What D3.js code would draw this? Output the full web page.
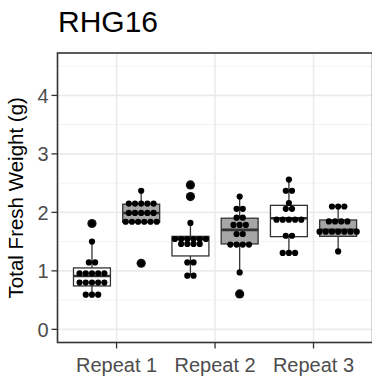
<!DOCTYPE html>
<html><head><meta charset="utf-8">
<script src="https://cdn.jsdelivr.net/npm/d3@7"></script>
<style>body{margin:0;background:#fff}svg{display:block}text{font-family:"Liberation Sans",Arial,sans-serif}</style>
</head><body>
<script>
// ---- data ----
const title = "RHG16";
const yTitle = "Total Fresh Weight (g)";
const categories = ["Repeat 1", "Repeat 2", "Repeat 3"];
const yTicks = [0, 1, 2, 3, 4];
const seriesFill = ["#FFFFFF", "#A6A6A6"];
// box stats per category: [lower whisker, Q1, median, Q3, upper whisker]
const boxWhite = [[0.593, 0.742, 0.913, 1.05, 1.50], [0.918, 1.255, 1.555, 1.59, 1.82], [1.306, 1.585, 1.90, 2.12, 2.56]];
const boxGrey  = [[1.83, 1.83, 1.99, 2.14, 2.37], [0.974, 1.46, 1.70, 1.90, 2.27], [1.333, 1.59, 1.70, 1.87, 2.10]];
const outWhite = [[1.81], [2.27, 2.47], []];
const outGrey  = [[1.13], [0.605], []];
// individual observations (dot plot)
const dotsWhite = [
  [1.81, 1.50, 1.145, 1.145, 0.957, 0.957, 0.957, 0.957, 0.957, 0.80, 0.80, 0.80, 0.80, 0.80, 0.593, 0.593, 0.593],
  [2.47, 2.27, 1.82, 1.545, 1.545, 1.545, 1.545, 1.545, 1.545, 1.46, 1.46, 1.46, 1.46, 1.145, 1.145, 0.918, 0.918],
  [2.56, 2.37, 2.37, 2.16, 2.06, 2.06, 1.875, 1.875, 1.875, 1.875, 1.875, 1.60, 1.60, 1.306, 1.306, 1.306]
];
const dotsGrey = [
  [2.37, 2.15, 2.15, 2.15, 2.15, 2.15, 1.99, 1.99, 1.99, 1.99, 1.99, 1.84, 1.84, 1.84, 1.84, 1.84, 1.84, 1.13],
  [2.27, 2.06, 2.06, 1.91, 1.91, 1.785, 1.785, 1.785, 1.63, 1.63, 1.45, 1.45, 1.45, 1.45, 0.974, 0.605],
  [2.10, 2.10, 2.10, 1.846, 1.846, 1.846, 1.846, 1.67, 1.67, 1.67, 1.67, 1.67, 1.67, 1.67, 1.333]
];

// ---- layout ----
const W = 372, H = 383;
const P = {left: 57.5, right: 372.6, top: 53, bottom: 342.5};
const svg = d3.select("body").append("svg").attr("width", W).attr("height", H);

const x = d3.scaleLinear().domain([0.4, categories.length + 0.6]).range([P.left, P.right]);
const y = d3.scaleLinear().domain([-0.225, 4.725]).range([P.bottom, P.top]);
const unit = x(1) - x(0);
const boxW = 0.375 * unit;
const dodge = [-0.25, 0.25];

const clip = svg.append("defs").append("clipPath").attr("id", "pc")
  .append("rect").attr("x", P.left).attr("y", P.top).attr("width", P.right - P.left).attr("height", P.bottom - P.top);

const g = svg.append("g").attr("clip-path", "url(#pc)");
g.append("rect").attr("x", P.left).attr("y", P.top).attr("width", P.right - P.left).attr("height", P.bottom - P.top).attr("fill", "#fff");

// grid
const minor = d3.range(-0.5, 5, 1);
g.selectAll(".gmin").data(minor).enter().append("line")
  .attr("x1", P.left).attr("x2", P.right).attr("y1", d => y(d)).attr("y2", d => y(d))
  .attr("stroke", "#F2F2F2").attr("stroke-width", 1);
g.selectAll(".gmaj").data(yTicks).enter().append("line")
  .attr("x1", P.left).attr("x2", P.right).attr("y1", d => y(d)).attr("y2", d => y(d))
  .attr("stroke", "#EBEBEB").attr("stroke-width", 1.6);
g.selectAll(".gx").data(categories).enter().append("line")
  .attr("y1", P.top).attr("y2", P.bottom).attr("x1", (d, i) => x(i + 1)).attr("x2", (d, i) => x(i + 1))
  .attr("stroke", "#EBEBEB").attr("stroke-width", 1.6);

const seriesBoxes = [boxWhite, boxGrey];
const seriesOut = [outWhite, outGrey];
const seriesDots = [dotsWhite, dotsGrey];

seriesBoxes.forEach((boxes, s) => {
  boxes.forEach((b, i) => {
    const cx = x(i + 1 + dodge[s]);
    const [lo, q1, med, q3, hi] = b;
    g.append("line").attr("x1", cx).attr("x2", cx).attr("y1", y(hi)).attr("y2", y(q3)).attr("stroke", "#333").attr("stroke-width", 1.3);
    g.append("line").attr("x1", cx).attr("x2", cx).attr("y1", y(q1)).attr("y2", y(lo)).attr("stroke", "#333").attr("stroke-width", 1.3);
    g.append("rect").attr("x", cx - boxW / 2).attr("y", y(q3)).attr("width", boxW).attr("height", Math.max(0.5, y(q1) - y(q3)))
      .attr("fill", seriesFill[s]).attr("stroke", "#333").attr("stroke-width", 1.3);
    g.append("line").attr("x1", cx - boxW / 2).attr("x2", cx + boxW / 2).attr("y1", y(med)).attr("y2", y(med))
      .attr("stroke", "#333").attr("stroke-width", 2.6);
    seriesOut[s][i].forEach(v => {
      g.append("circle").attr("cx", cx).attr("cy", y(v)).attr("r", 4.6).attr("fill", "#111");
    });
  });
});

// dot plot (centre-stacked)
const spacing = 6.2;
seriesDots.forEach((groups, s) => {
  groups.forEach((vals, i) => {
    const cx = x(i + 1 + dodge[s]);
    const rows = d3.rollups(vals, v => v.length, v => v);
    rows.forEach(([v, n]) => {
      for (let k = 0; k < n; k++) {
        g.append("circle").attr("cx", cx + (k - (n - 1) / 2) * spacing).attr("cy", y(v)).attr("r", 3.1).attr("fill", "#000");
      }
    });
  });
});

// panel border
svg.append("rect").attr("x", P.left).attr("y", P.top).attr("width", P.right - P.left).attr("height", P.bottom - P.top)
  .attr("fill", "none").attr("stroke", "#333").attr("stroke-width", 1.6);

// y axis
const ya = svg.append("g");
yTicks.forEach(t => {
  ya.append("line").attr("x1", P.left - 6).attr("x2", P.left).attr("y1", y(t)).attr("y2", y(t)).attr("stroke", "#333").attr("stroke-width", 1.3);
  ya.append("text").attr("x", P.left - 9).attr("y", y(t)).attr("dy", "0.36em").attr("text-anchor", "end")
    .attr("font-size", 20).attr("fill", "#4D4D4D").text(t);
});
// x axis
categories.forEach((c, i) => {
  svg.append("line").attr("x1", x(i + 1)).attr("x2", x(i + 1)).attr("y1", P.bottom).attr("y2", P.bottom + 6).attr("stroke", "#333").attr("stroke-width", 1.3);
  svg.append("text").attr("x", x(i + 1)).attr("y", 372).attr("text-anchor", "middle").attr("font-size", 20).attr("fill", "#4D4D4D").text(c);
});

svg.append("text").attr("transform", `translate(23,${(P.top + P.bottom) / 2}) rotate(-90)`).attr("text-anchor", "middle")
  .attr("font-size", 20.5).attr("fill", "#000").text(yTitle);
svg.append("text").attr("x", 58).attr("y", 32).attr("font-size", 30).attr("fill", "#000").text(title);
</script>
</body></html>
